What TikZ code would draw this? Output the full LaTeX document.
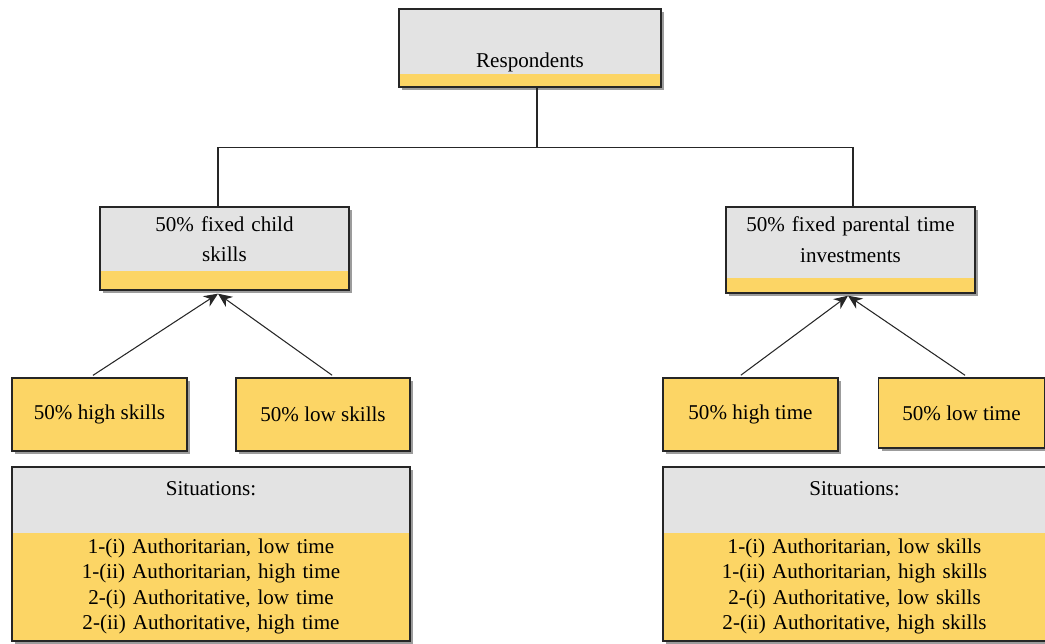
\documentclass[tikz,border=0pt]{standalone}
\usepackage{fontspec}
\setmainfont{Liberation Serif}
\usetikzlibrary{arrows.meta,shadows}
\definecolor{boxyellow}{HTML}{FCD565}
\definecolor{boxgrey}{HTML}{E3E3E3}
\definecolor{shadowgrey}{HTML}{9C9C9C}
\begin{document}
\begin{tikzpicture}[x=0.02cm,y=-0.02cm,
        box/.style={draw=black!85,line width=0.8pt,fill=boxyellow,inner sep=0pt,
            font=\fontsize{12}{14.6}\selectfont,
            drop shadow={shadow xshift=0.06cm,shadow yshift=-0.06cm,fill=shadowgrey,opacity=1}},
        greytop/.style={path picture={\fill[boxgrey] (path picture bounding box.north west)
            rectangle ([yshift=-#1]path picture bounding box.north east);}},
        twoline/.style={align=center,text width=4.6cm,font=\fontsize{12}{17.6}\selectfont},
        link/.style={draw=black!85,line width=0.6pt},
        feed/.style={link,-{Stealth[length=8pt,width=7pt]},shorten <=2pt}]
\useasboundingbox (0,0) rectangle (1045,643);

% top of the tree
\node[box,greytop=1.3cm,minimum width=5.24cm,minimum height=1.56cm,text height=22.7pt,text depth=0pt]
    (resp) at (530,48) {Respondents};
\node[box,greytop=1.28cm,twoline,minimum width=4.98cm,minimum height=1.66cm,text height=0pt,text depth=19.9pt]
    (fixskill) at (224.5,248.5) {50\% fixed child\\skills};
\node[box,greytop=1.42cm,twoline,minimum width=4.98cm,minimum height=1.72cm,text height=0pt,text depth=21.5pt]
    (fixtime) at (850.5,250) {50\% fixed parental time\\investments};

\draw[link] ([xshift=0.14cm]resp.south) -- ++(0,60) -| ([xshift=-0.13cm]fixskill.north);
\draw[link] ([xshift=0.14cm]resp.south) -- ++(0,60) -| ([xshift=0.05cm]fixtime.north);

% groups
\node[box,minimum width=3.5cm,minimum height=1.46cm] (hiskill) at (99.5,414.5) {50\% high skills};
\node[box,minimum width=3.48cm,minimum height=1.46cm] (loskill) at (323,414.5) {50\% low skills};
\node[box,minimum width=3.5cm,minimum height=1.46cm] (hitime) at (750.5,414.5) {50\% high time};
\node[box,minimum width=3.32cm,minimum height=1.4cm] (lotime) at (961.5,413) {50\% low time};

\draw[feed] ([xshift=-0.19cm]hiskill.north) -- ([xshift=-0.13cm,yshift=-0.06cm]fixskill.south);
\draw[feed] ([xshift=0.24cm]loskill.north) -- ([xshift=-0.13cm,yshift=-0.06cm]fixskill.south);
\draw[feed] ([xshift=-0.25cm]hitime.north) -- ([xshift=-0.05cm,yshift=-0.04cm]fixtime.south);
\draw[feed] ([xshift=0.13cm]lotime.north) -- ([xshift=-0.05cm,yshift=-0.04cm]fixtime.south);

% situations
\node[box,greytop=1.32cm,align=center,text width=7.6cm,minimum width=7.96cm,minimum height=3.48cm,
    text height=0pt,text depth=66.9pt] (sitskill) at (211,554)
    {Situations:\\[18.3pt]1-(i) Authoritarian, low time\\1-(ii) Authoritarian, high time\\
     2-(i) Authoritative, low time\\2-(ii) Authoritative, high time};
\node[box,greytop=1.32cm,align=center,text width=7.3cm,minimum width=7.66cm,minimum height=3.48cm,
    text height=0pt,text depth=66.9pt] (sittime) at (854.5,554)
    {Situations:\\[18.3pt]1-(i) Authoritarian, low skills\\1-(ii) Authoritarian, high skills\\
     2-(i) Authoritative, low skills\\2-(ii) Authoritative, high skills};
\end{tikzpicture}
\end{document}
